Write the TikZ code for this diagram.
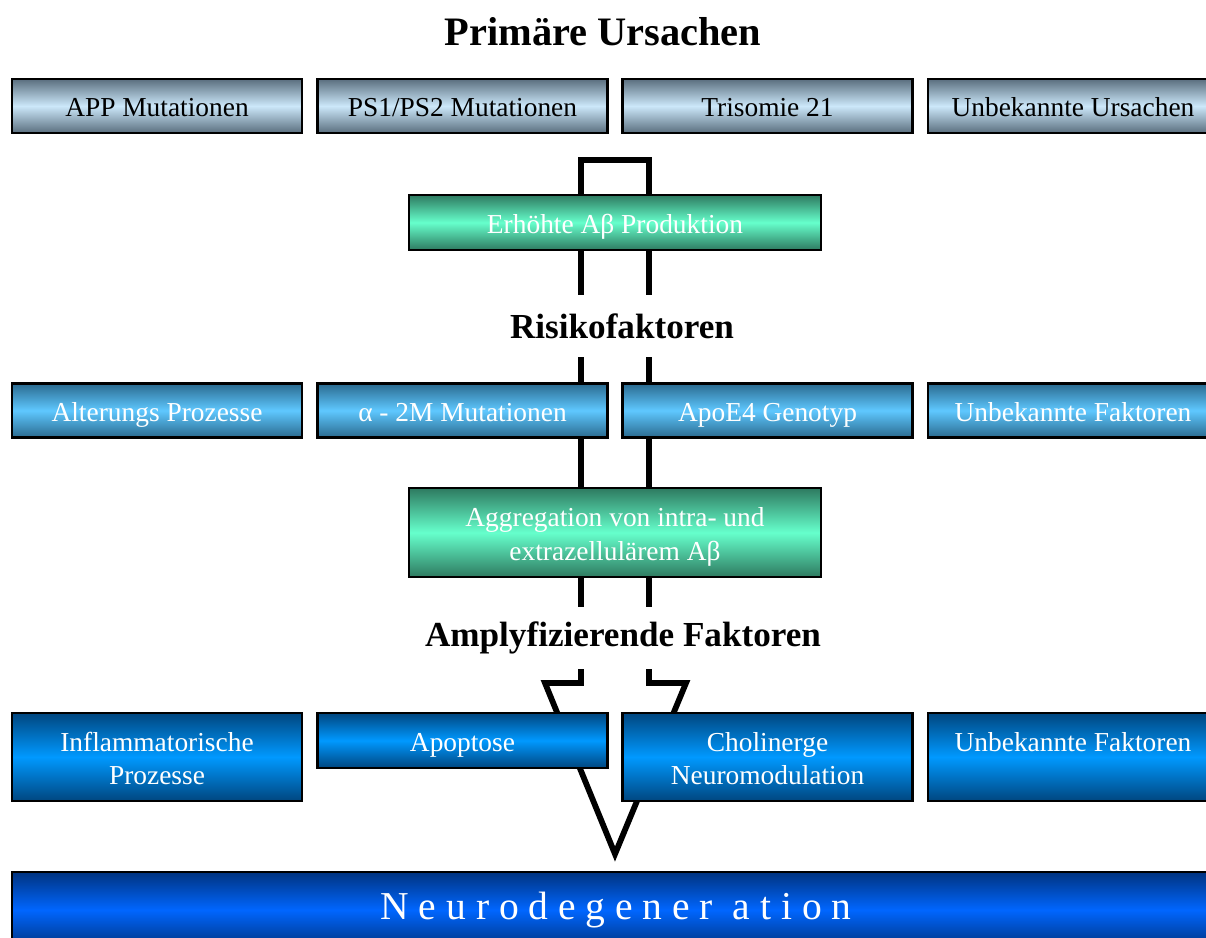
\documentclass[tikz,border=0pt]{standalone}
\usepackage{fontspec}
\setmainfont{Liberation Serif}
\usepackage{xcolor}

\definecolor{greyblue}{HTML}{5A6E7E}
\definecolor{paleblue}{HTML}{CCE8FA}
\definecolor{steelblue}{HTML}{2A6A8F}
\definecolor{skyblue}{HTML}{5FC8FF}
\definecolor{deepblue}{HTML}{00467F}
\definecolor{brightblue}{HTML}{0099FF}
\definecolor{darkmint}{HTML}{2E7A60}
\definecolor{mint}{HTML}{66FFCC}
\definecolor{navyblue}{HTML}{003380}
\definecolor{royalblue}{HTML}{0066FF}

\newcommand\boxstrut{\rule[-3.6pt]{0pt}{19.6pt}}
\newcommand\twolines[2]{\rule{0pt}{16pt}#1\\#2\rule[-3.6pt]{0pt}{3.6pt}}

\tikzset{
  box/.style={draw=black, line width=1.2pt, minimum width=5.8cm, minimum height=1.08cm,
    inner sep=0pt, align=center, font=\fontsize{15.6}{19}\selectfont,
    execute at begin node=\boxstrut, execute at end node=\boxstrut},
  cause/.style={box, top color=greyblue, bottom color=greyblue, middle color=paleblue},
  risk/.style={box, text=white, top color=steelblue, bottom color=steelblue, middle color=skyblue},
  amplifier/.style={box, text=white, minimum height=1.76cm,
    top color=deepblue, bottom color=deepblue, middle color=brightblue},
  stage/.style={box, text=white, minimum width=8.24cm,
    top color=darkmint, bottom color=darkmint, middle color=mint},
  heading/.style={font=\bfseries\fontsize{20}{24}\selectfont, fill=white, minimum height=1.24cm}
}

\begin{document}
\begin{tikzpicture}[x=0.02cm, y=-0.02cm]
  \useasboundingbox (0,0) rectangle (1206,937);
  \clip (0,0) rectangle (1206,937);

  % big arrow in the back
  \draw[line width=3.3pt, miter limit=10]
    (581,683) -- (581,160) -- (649,160) -- (649,683) -- (686,683)
    -- (615,854) -- (545,683) -- cycle;

  % headings
  \node[font=\bfseries\fontsize{23}{28}\selectfont] (primary) at (603,32) {Primäre Ursachen};
  \node[heading] (risks) at (622,326) {Risikofaktoren};
  \node[heading] (amps) at (623,638) {Amplyfizierende Faktoren};

  % primary causes
  \node[cause] (app) at (157,106) {APP Mutationen};
  \node[cause] (psen) at (462.5,106) {PS1/PS2 Mutationen};
  \node[cause] (trisomy) at (767.5,106) {Trisomie 21};
  \node[cause] (unkcause) at (1073,106) {Unbekannte Ursachen};

  \node[stage, minimum height=1.1cm] (production) at (615,222.5) {Erhöhte Aβ Produktion};

  % risk factors
  \node[risk] (ageing) at (157,410.5) {Alterungs Prozesse};
  \node[risk] (alpha) at (462.5,410.5) {α - 2M Mutationen};
  \node[risk] (apoe) at (767.5,410.5) {ApoE4 Genotyp};
  \node[risk] (unkrisk) at (1073,410.5) {Unbekannte Faktoren};

  \node[stage, minimum height=1.78cm] (aggregation) at (615,532.5)
    {\twolines{Aggregation von intra- und}{extrazellulärem Aβ}};

  % amplifying factors
  \node[amplifier] (inflam) at (157,757) {\twolines{Inflammatorische}{Prozesse}};
  \node[amplifier, minimum height=1.1cm] (apoptosis) at (462.5,740.5) {Apoptose};
  \node[amplifier] (cholin) at (767.5,757) {\twolines{Cholinerge}{Neuromodulation}};
  \node[amplifier] (unkamp) at (1073,757) {\twolines{Unbekannte Faktoren}{}};

  % result
  \node[box, text=white, minimum width=24.16cm, minimum height=1.52cm,
    top color=navyblue, bottom color=navyblue, middle color=royalblue,
    font=\fontsize{22.5}{27}\selectfont] (neuro) at (616,910)
    {N e u r o d e g e n e r\ \ a t i o n};
\end{tikzpicture}
\end{document}
